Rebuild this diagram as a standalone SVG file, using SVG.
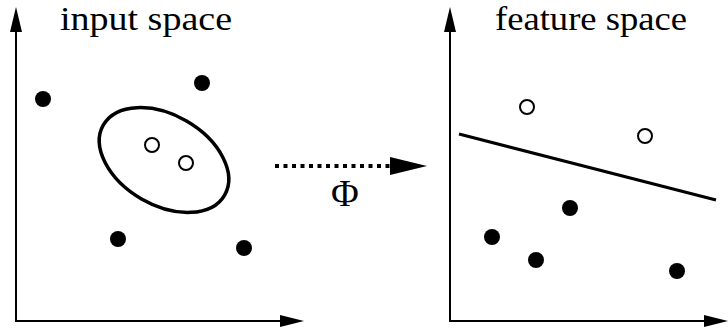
<svg xmlns="http://www.w3.org/2000/svg" width="728" height="329" viewBox="0 0 728 329">
<style>
.ax{stroke:#000;stroke-width:2;fill:none}
.ah{fill:#000}
.fd{fill:#000}
.od{fill:#fff;stroke:#000;stroke-width:2}
.lbl{font-family:"Liberation Serif",serif;font-size:33px;fill:#000}
</style>
<rect width="728" height="329" fill="#fff"/>
<g id="input-space">
<g id="input-axes">
<path class="ax" d="M16,30 V321 H282"/>
<polygon class="ah" points="16,7 10,32 22,32"/>
<polygon class="ah" points="304,321 280,315 280,327"/>
</g>
<text class="lbl" x="60" y="29.5" textLength="172" lengthAdjust="spacingAndGlyphs">input space</text>
<circle class="fd" cx="43" cy="99" r="8"/>
<circle class="fd" cx="202" cy="83" r="8"/>
<circle class="fd" cx="118" cy="239" r="8"/>
<circle class="fd" cx="244" cy="248" r="8"/>
<ellipse cx="164" cy="160" rx="70" ry="45" transform="rotate(30 164 160)" fill="none" stroke="#000" stroke-width="3.5"/>
<circle class="od" cx="152" cy="145" r="7"/>
<circle class="od" cx="186" cy="163" r="7"/>
</g>
<g id="connectors">
<line x1="275" y1="166" x2="392" y2="166" stroke="#000" stroke-width="4" stroke-dasharray="4 4.5"/>
<polygon class="ah" points="427,166 390,157 390,175"/>
<text x="345" y="206" font-family="'Liberation Serif',serif" font-size="38px" text-anchor="middle">Φ</text>
</g>
<g id="feature-space">
<g id="feature-axes">
<path class="ax" d="M450,30 V321 H706"/>
<polygon class="ah" points="450,7 444,32 456,32"/>
<polygon class="ah" points="728,321 704,315 704,327"/>
</g>
<text class="lbl" x="495" y="29.5" textLength="192" lengthAdjust="spacingAndGlyphs">feature space</text>
<circle class="od" cx="527" cy="107" r="7"/>
<circle class="od" cx="645" cy="136" r="7"/>
<line x1="459" y1="134" x2="716" y2="200" stroke="#000" stroke-width="3"/>
<circle class="fd" cx="492" cy="237" r="8"/>
<circle class="fd" cx="570" cy="208" r="8"/>
<circle class="fd" cx="536" cy="260" r="8"/>
<circle class="fd" cx="677" cy="271" r="8"/>
</g>
</svg>
